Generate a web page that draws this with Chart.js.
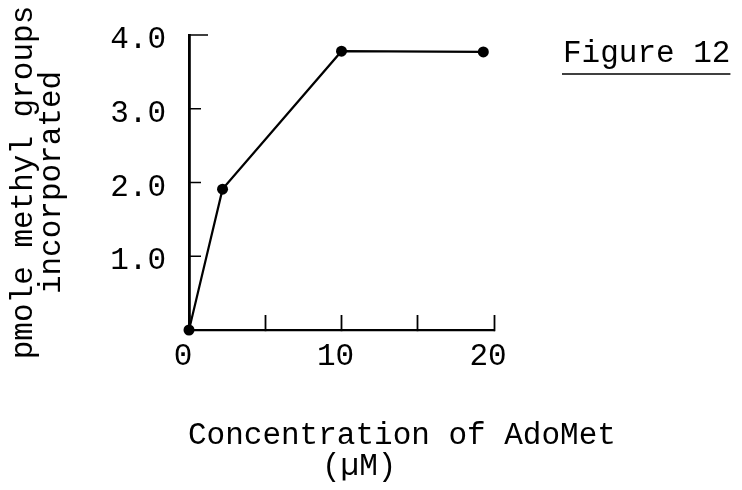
<!DOCTYPE html>
<html><head><meta charset="utf-8">
<script src="https://cdn.jsdelivr.net/npm/chart.js@4"></script>
<style>html,body{margin:0;padding:0;background:#fff;} canvas{display:block;}</style>
</head><body>
<canvas id="c" width="742" height="490"></canvas>
<script>
// Data
const concentration = [0, 2.2, 10, 19.3];        // AdoMet (µM)
const methylGroups  = [0, 1.91, 3.78, 3.77];     // pmole incorporated
const xTickValues = [0, 5, 10, 15, 20];
const xTickLabels = ['0', '', '10', '', '20'];
const yTickValues = [0, 1, 2, 3, 4];
const yTickLabels = ['', '1.0', '2.0', '3.0', '4.0'];
const yTitleLines = ['pmole methyl groups', 'incorporated'];
const xTitleLines = ['Concentration of AdoMet', '(µM)'];
const figureLabel = 'Figure 12';

const FONT = "'Liberation Mono', 'Courier New', monospace";
Chart.defaults.font.family = FONT;
Chart.defaults.color = '#000';

// inward-pointing tick marks on the y axis, placed by the y scale
const innerYTicks = {
  id: 'innerYTicks',
  afterDraw(chart) {
    const {ctx, chartArea} = chart;
    const ys = chart.scales.y;
    ctx.save();
    ctx.strokeStyle = '#000';
    ctx.lineWidth = 1.5;
    ctx.beginPath();
    yTickValues.forEach(v => {
      if (v === ys.min) return;
      const py = ys.getPixelForValue(v);
      ctx.moveTo(chartArea.left, py);
      ctx.lineTo(chartArea.left + (v === ys.max ? 19 : 12), py);
    });
    ctx.stroke();
    ctx.restore();
  }
};

const typedText = {
  id: 'typedText',
  afterDraw(chart) {
    const {ctx, chartArea} = chart;
    ctx.save();
    ctx.fillStyle = '#000';
    ctx.font = '31px ' + FONT;
    ctx.textBaseline = 'middle';
    ctx.textAlign = 'left';
    ctx.fillText(xTitleLines[0], chartArea.left - 1, 436);
    ctx.fillText(xTitleLines[1], chartArea.left + 133, 467);
    ctx.fillText(figureLabel, 563, 54);
    const w = ctx.measureText(figureLabel).width;
    ctx.strokeStyle = '#000';
    ctx.lineWidth = 1.5;
    ctx.beginPath();
    ctx.moveTo(562, 74);
    ctx.lineTo(563 + w, 74);
    ctx.stroke();
    ctx.restore();
  }
};

new Chart(document.getElementById('c'), {
  type: 'scatter',
  data: {
    datasets: [{
      data: concentration.map((x, i) => ({x: x, y: methylGroups[i]})),
      showLine: true,
      borderColor: '#000',
      backgroundColor: '#000',
      borderWidth: 2.2,
      pointRadius: 5.5,
      pointHoverRadius: 5.5,
      pointBorderWidth: 0,
      tension: 0,
      clip: false
    }]
  },
  options: {
    responsive: false,
    animation: false,
    devicePixelRatio: 1,
    layout: {padding: {left: 0, top: 35, right: 248, bottom: 0}},
    plugins: {legend: {display: false}, tooltip: {enabled: false}, title: {display: false}},
    scales: {
      x: {
        type: 'linear', position: 'bottom', min: 0, max: 20,
        afterBuildTicks: s => { s.ticks = xTickValues.map(v => ({value: v})); },
        ticks: {
          callback: (v, i) => xTickLabels[i],
          font: {size: 31}, padding: 23, labelOffset: -6,
          maxRotation: 0, autoSkip: false, color: '#000'
        },
        grid: {drawOnChartArea: false, tickLength: -15, tickWidth: 1.8, tickColor: '#000'},
        border: {color: '#000', width: 2.2},
        afterFit: s => { s.height = 160; s.paddingLeft = 0; s.paddingRight = 0; }
      },
      y: {
        type: 'linear', position: 'left', min: 0, max: 4,
        afterBuildTicks: s => { s.ticks = yTickValues.map(v => ({value: v})); },
        ticks: {
          callback: (v, i) => yTickLabels[i],
          font: {size: 31}, padding: 23, labelOffset: 5,
          autoSkip: false, color: '#000'
        },
        grid: {drawOnChartArea: false, drawTicks: false},
        border: {color: '#000', width: 2.8},
        title: {
          display: true, text: yTitleLines, color: '#000',
          font: {size: 31, lineHeight: '28px'},
          padding: {top: 10, bottom: 0}
        },
        afterFit: s => { s.width = 189; s.paddingTop = 0; s.paddingBottom = 0; }
      }
    }
  },
  plugins: [innerYTicks, typedText]
});
</script>
</body></html>
